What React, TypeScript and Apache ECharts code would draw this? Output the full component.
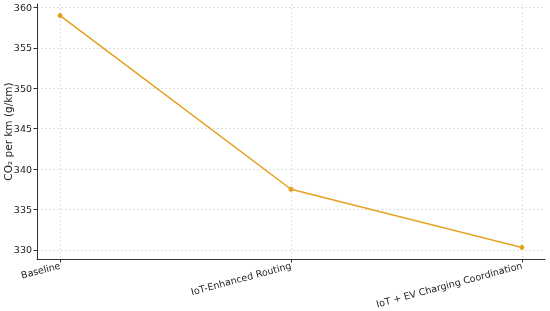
import React, { useEffect, useRef } from "react";
import * as echarts from "echarts";

const categories = ["Baseline", "IoT-Enhanced Routing", "IoT + EV Charging Coordination"];
const co2Values = [359.0, 337.5, 330.3];
const yTicks = [330, 335, 340, 345, 350, 355, 360];

export default function App() {
  const ref = useRef<HTMLDivElement>(null);
  useEffect(() => {
    if (!ref.current) return;
    const chart = echarts.init(ref.current, undefined, { renderer: "svg" });
    const font = "DejaVu Sans";
    chart.setOption({
      animation: false,
      grid: { left: 37, right: 5, top: 4, bottom: 52, containLabel: false, outerBoundsMode: "none" },
      xAxis: {
        type: "value",
        min: -0.1,
        max: 2.1,
        axisLine: { show: true, onZero: false, lineStyle: { color: "#333", width: 1 } },
        axisTick: { show: true, customValues: [0, 1, 2], length: 3.5, lineStyle: { color: "#333" } },
        axisLabel: {
          customValues: [0, 1, 2],
          formatter: (v: number) => categories[Math.round(v)] ?? "",
          rotate: 15,
          margin: 6,
          fontSize: 9.5,
          fontFamily: font,
          color: "#222",
        },
        splitLine: { show: true, lineStyle: { color: "#d8d8d8", type: [2, 2], width: 0.8 } },
      },
      yAxis: {
        type: "value",
        min: 328.865,
        max: 360.435,
        name: "CO₂ per km (g/km)",
        nameLocation: "middle",
        nameGap: 24,
        nameMoveOverlap: false,
        nameTextStyle: { fontSize: 10.5, fontFamily: font, color: "#222" },
        axisLine: { show: true, onZero: false, lineStyle: { color: "#333", width: 1 } },
        axisTick: { show: true, customValues: yTicks, length: 3.5, lineStyle: { color: "#333" } },
        axisLabel: { customValues: yTicks, margin: 5, fontSize: 9.5, fontFamily: font, color: "#222" },
        splitLine: { show: true, lineStyle: { color: "#d8d8d8", type: [2, 2], width: 0.8 } },
      },
      series: [
        {
          type: "line",
          data: categories.map((_, i) => [i, co2Values[i]]),
          symbol: "circle",
          symbolSize: 5,
          itemStyle: { color: "#e6a01c" },
          lineStyle: { color: "#e6a01c", width: 1.5 },
        },
      ],
    });
    return () => chart.dispose();
  }, []);
  return <div ref={ref} style={{ position: "fixed", left: 0, top: 0, width: 550, height: 311 }} />;
}
